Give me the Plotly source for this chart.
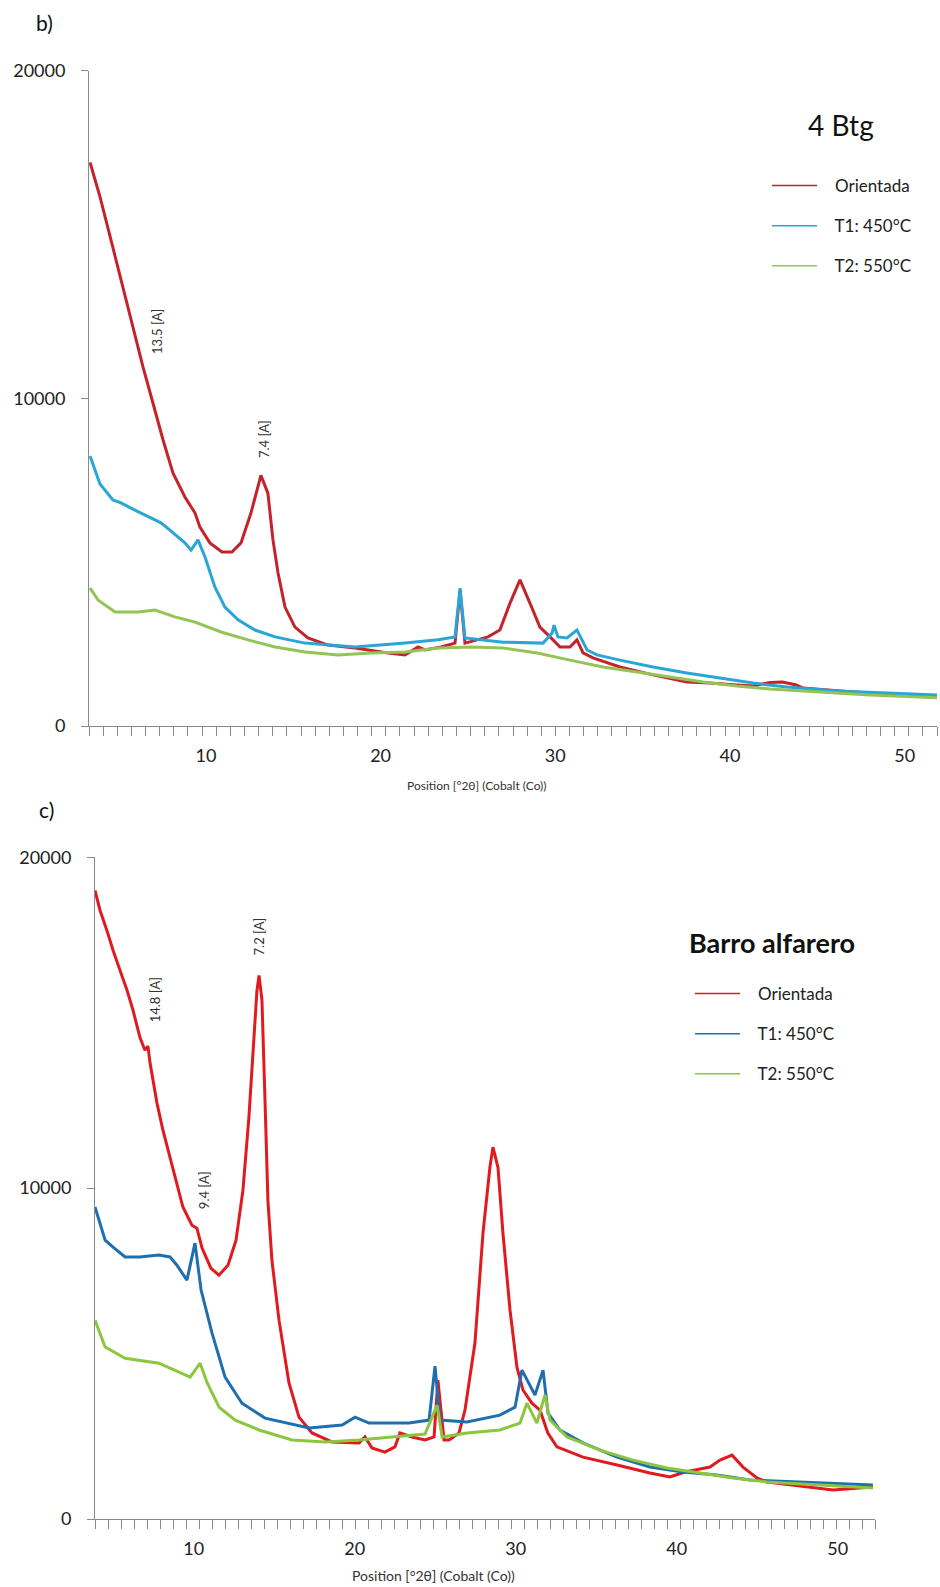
import numpy as np
import plotly.graph_objects as go

# ---------------- data ----------------
# Panel b) 4 Btg
b_orient_x = [3.37, 3.94, 4.68, 5.25, 5.83, 6.40, 6.97, 7.55, 8.12, 8.80, 9.38, 9.66, 10.23, 10.92, 11.49, 12.01, 12.58,
              13.15, 13.55, 13.84, 14.13, 14.53, 15.10, 15.84, 16.99, 18.54, 20.42, 21.40, 22.14, 22.54, 23.46, 24.26,
              24.55, 24.83, 26.15, 26.83, 27.41, 27.98, 28.55, 29.12, 29.70, 30.27, 30.84, 31.24, 31.59, 32.16, 33.70,
              35.59, 37.53, 38.85, 40.40, 41.30, 42.29, 43.00, 43.80, 44.18, 47.04, 49.90, 51.85]
b_orient_y = [17200, 16150, 14600, 13400, 12180, 10960, 9860, 8730, 7720, 6990, 6500, 6070, 5590, 5310, 5310, 5590, 6500,
              7650, 7110, 5680, 4670, 3630, 3020, 2690, 2470, 2380, 2230, 2170, 2410, 2320, 2410, 2530,
              4150, 2530, 2720, 2930, 3750, 4460, 3750, 3020, 2720, 2410, 2410, 2630, 2230, 2080, 1800,
              1560, 1340, 1310, 1250, 1220, 1330, 1340, 1250, 1160, 1040, 950, 890]

b_t1_x = [3.37, 3.94, 4.68, 5.14, 5.71, 6.28, 6.86, 7.43, 7.94, 8.40, 8.80, 9.15, 9.55, 9.95, 10.52, 11.09, 11.84, 12.81,
          13.96, 15.67, 18.54, 21.40, 23.29, 24.26, 24.55, 24.83, 27.01, 29.30, 29.82, 29.93, 30.15, 30.67, 31.24,
          31.82, 32.39, 33.70, 35.59, 37.53, 39.42, 41.31, 43.26, 46.12, 48.98, 51.85]
b_t1_y = [8240, 7390, 6900, 6810, 6650, 6500, 6350, 6200, 5980, 5770, 5590, 5370, 5680, 5160, 4240, 3630, 3240, 2930,
          2720, 2530, 2410, 2530, 2630, 2720, 4210, 2690, 2560, 2530, 2840, 3080, 2720, 2690, 2930,
          2320, 2170, 2010, 1800, 1620, 1470, 1310, 1190, 1070, 1010, 950]

b_t2_x = [3.37, 3.82, 4.80, 6.11, 7.09, 8.23, 9.38, 10.87, 12.41, 13.96, 15.67, 17.56, 19.45, 21.40, 23.29, 25.18, 27.01,
          28.96, 30.84, 32.73, 34.68, 36.57, 38.46, 40.40, 42.29, 45.15, 48.01, 51.85]
b_t2_y = [4210, 3850, 3480, 3480, 3540, 3330, 3170, 2870, 2630, 2410, 2260, 2170, 2230, 2260, 2380, 2410, 2380,
          2230, 2010, 1800, 1650, 1500, 1340, 1220, 1130, 1040, 950, 860]

# Panel c) Barro alfarero
c_orient_x = [3.87, 4.18, 4.61, 4.99, 5.42, 5.86, 6.23, 6.66, 6.97, 7.16, 7.29, 7.72, 8.09, 8.53, 8.96, 9.33, 9.89, 10.20,
              10.52, 11.07, 11.57, 12.13, 12.63, 13.06, 13.43, 13.68, 13.93, 14.06, 14.24, 14.43, 14.61, 14.86, 15.30,
              15.92, 16.54, 17.35, 18.59, 20.27, 20.64, 21.07, 21.88, 22.50, 22.81, 23.56, 24.37, 24.93, 25.17, 25.55,
              25.86, 26.48, 26.85, 27.47, 27.97, 28.40, 28.59, 28.90, 29.21, 29.65, 30.08, 30.45, 31.01, 31.51, 32.00,
              32.56, 34.18, 36.30, 38.34, 39.58, 40.52, 41.45, 42.07, 42.69, 43.44, 44.12, 44.99, 45.61, 47.66, 49.71,
              52.19]
c_orient_y = [19000, 18400, 17790, 17190, 16590, 15980, 15380, 14560, 14170, 14290, 13780, 12570, 11750, 10940, 10150,
              9430, 8880, 8790, 8190, 7580, 7370, 7670, 8430, 9940, 12140, 14170, 15980, 16430, 15680, 12660, 9640,
              7820, 6010, 4110, 3080, 2600, 2330, 2300, 2480, 2150, 2020, 2180, 2600, 2480, 2390, 2480, 4200, 2390,
              2390, 2600, 3290, 5320, 8640, 10630, 11240, 10630, 8640, 6310, 4590, 3900, 3500, 3290, 2600,
              2180, 1870, 1630, 1390, 1270, 1420, 1510, 1570, 1780, 1930, 1570, 1240, 1120, 1000, 880, 970]

c_t1_x = [3.87, 4.18, 4.50, 4.99, 5.74, 6.66, 7.84, 8.53, 8.96, 9.58, 10.08, 10.46, 11.14, 11.95, 13.00, 14.43, 15.49,
          17.17, 19.22, 20.02, 20.89, 23.37, 24.62, 24.99, 25.30, 26.97, 29.02, 29.96, 30.39, 30.70, 31.20, 31.70,
          32.01, 32.75, 34.18, 36.29, 38.34, 40.39, 42.50, 44.55, 47.66, 49.71, 52.19]
c_t1_y = [9430, 8940, 8430, 8220, 7920, 7920, 7980, 7920, 7670, 7220, 8340, 6920, 5620, 4290, 3500, 3050, 2930,
          2750, 2840, 3080, 2900, 2900, 2990, 4620, 2990, 2930, 3140, 3380, 4500, 4200, 3750, 4500,
          3200, 2690, 2300, 1870, 1570, 1420, 1330, 1180, 1120, 1090, 1030]

c_t2_x = [3.87, 4.50, 5.74, 7.84, 9.09, 9.78, 10.40, 10.84, 11.58, 12.58, 14.06, 16.11, 18.17, 20.27, 22.32, 24.37, 25.12,
          25.43, 26.97, 29.02, 30.27, 30.70, 31.32, 31.82, 32.13, 33.19, 35.24, 37.29, 39.40, 41.45, 43.50, 45.61,
          48.72, 52.19]
c_t2_y = [6010, 5200, 4860, 4710, 4440, 4290, 4710, 4110, 3380, 2990, 2690, 2390, 2330, 2390, 2480, 2570, 3440,
          2480, 2600, 2690, 2900, 3500, 2900, 3750, 2990, 2480, 2080, 1780, 1540, 1390, 1240, 1120,
          1030, 940]

series_names = ["Orientada", "T1: 450°C", "T2: 550°C"]
x_tick_vals = [10, 20, 30, 40, 50]
y_tick_vals = [0, 10000, 20000]
y_tick_text = ["0", "10000", "20000"]

b_peaks_text = ["13.5 [A]", "7.4 [A]"]
b_peaks_x = [7.2, 13.33]
b_peaks_y = [12055, 8760]
c_peaks_text = ["14.8 [A]", "7.2 [A]", "9.4 [A]"]
c_peaks_x = [7.60, 14.06, 10.64]
c_peaks_y = [15680, 17610, 9940]

# ---------------- styles ----------------
W, H = 940, 1587
FONT = "Lato"
b_colors = ["#c4232b", "#2aa6d6", "#93c455"]
c_colors = ["#e01a1f", "#1f6fae", "#8cc63f"]
AX = "#8a8a8a"
PAD = "\u00a0\u00a0\u00a0"

b_xrange = [3.31, 51.85]
c_xrange = [3.87, 52.32]

fig = go.Figure()

b_data = [(b_orient_x, b_orient_y), (b_t1_x, b_t1_y), (b_t2_x, b_t2_y)]
c_data = [(c_orient_x, c_orient_y), (c_t1_x, c_t1_y), (c_t2_x, c_t2_y)]

for (xs, ys), col in zip(b_data, b_colors):
    fig.add_trace(go.Scatter(x=xs, y=ys, mode="lines", line=dict(color=col, width=3),
                             xaxis="x", yaxis="y", showlegend=False, hoverinfo="skip"))
for (xs, ys), col in zip(c_data, c_colors):
    fig.add_trace(go.Scatter(x=xs, y=ys, mode="lines", line=dict(color=col, width=3),
                             xaxis="x2", yaxis="y2", showlegend=False, hoverinfo="skip"))

# legend entries (thin lines like the original legend)
for i, (name, col) in enumerate(zip(series_names, b_colors)):
    fig.add_trace(go.Scatter(x=[None], y=[None], mode="lines", name=PAD + name, line=dict(color=col, width=1.5),
                             xaxis="x", yaxis="y", legend="legend", legendgroup="b%d" % i))
for i, (name, col) in enumerate(zip(series_names, c_colors)):
    fig.add_trace(go.Scatter(x=[None], y=[None], mode="lines", name=PAD + name, line=dict(color=col, width=1.5),
                             xaxis="x2", yaxis="y2", legend="legend2", legendgroup="c%d" % i))


def xaxis(domain, rng, anchor):
    return dict(domain=domain, range=rng, anchor=anchor, showgrid=False, zeroline=False,
                showline=True, linecolor=AX, linewidth=1,
                tickmode="array", tickvals=x_tick_vals, ticks="outside", ticklen=13,
                tickcolor="rgba(0,0,0,0)", tickfont=dict(family=FONT, size=18, color="#222"),
                minor=dict(tickmode="array", tickvals=list(np.linspace(rng[0], rng[1], 61)),
                           ticks="outside", ticklen=9, tickcolor=AX, tickwidth=1),
                fixedrange=True)


def yaxis(domain, anchor):
    return dict(domain=domain, range=[0, 20000], anchor=anchor, showgrid=False, zeroline=False,
                showline=True, linecolor=AX, linewidth=1,
                tickmode="array", tickvals=y_tick_vals, ticktext=y_tick_text,
                ticks="outside", ticklen=7, tickcolor=AX,
                ticklabelstandoff=12,
                tickfont=dict(family=FONT, size=18, color="#222"), fixedrange=True)


def label(text, x, y, size, color="#111"):
    return dict(text=text, x=x / W, y=1 - y / H, xref="paper", yref="paper", showarrow=False,
                xanchor="center", yanchor="middle", font=dict(family=FONT, size=size, color=color))


annotations = []
for t, x, y in zip(b_peaks_text, b_peaks_x, b_peaks_y):
    annotations.append(dict(text=t, x=x, y=y, xref="x", yref="y", showarrow=False, textangle=-90,
                            xanchor="center", yanchor="middle",
                            font=dict(family=FONT, size=13, color="#333")))
for t, x, y in zip(c_peaks_text, c_peaks_x, c_peaks_y):
    annotations.append(dict(text=t, x=x, y=y, xref="x2", yref="y2", showarrow=False, textangle=-90,
                            xanchor="center", yanchor="middle",
                            font=dict(family=FONT, size=13, color="#333")))

annotations += [
    label("b)", 44, 23, 21),
    label("c)", 46, 809, 21),
    label("4 Btg", 841, 125, 28),
    label("<b>Barro alfarero</b>", 772, 942, 27),
    label("Position [°2θ] (Cobalt (Co))", 477, 785, 12, "#333"),
    label("Position [°2θ] (Cobalt (Co))", 433, 1575, 14, "#333"),
]

legend_common = dict(xanchor="left", yanchor="top", bgcolor="rgba(0,0,0,0)", borderwidth=0,
                     font=dict(family=FONT, size=17, color="#222"), tracegroupgap=15, itemwidth=45)

fig.update_layout(
    width=W, height=H, margin=dict(l=0, r=0, t=0, b=0, autoexpand=False),
    paper_bgcolor="white", plot_bgcolor="white",
    xaxis=xaxis([89 / W, 937 / W], b_xrange, "y"),
    yaxis=yaxis([1 - 726 / H, 1 - 70.8 / H], "x"),
    xaxis2=xaxis([95 / W, 875 / W], c_xrange, "y2"),
    yaxis2=yaxis([1 - 1519 / H, 1 - 857.3 / H], "x2"),
    legend=dict(x=767 / W, y=1 - 168 / H, **legend_common),
    legend2=dict(x=690 / W, y=1 - 976 / H, **legend_common),
    annotations=annotations,
)

fig.write_html("out.html")
